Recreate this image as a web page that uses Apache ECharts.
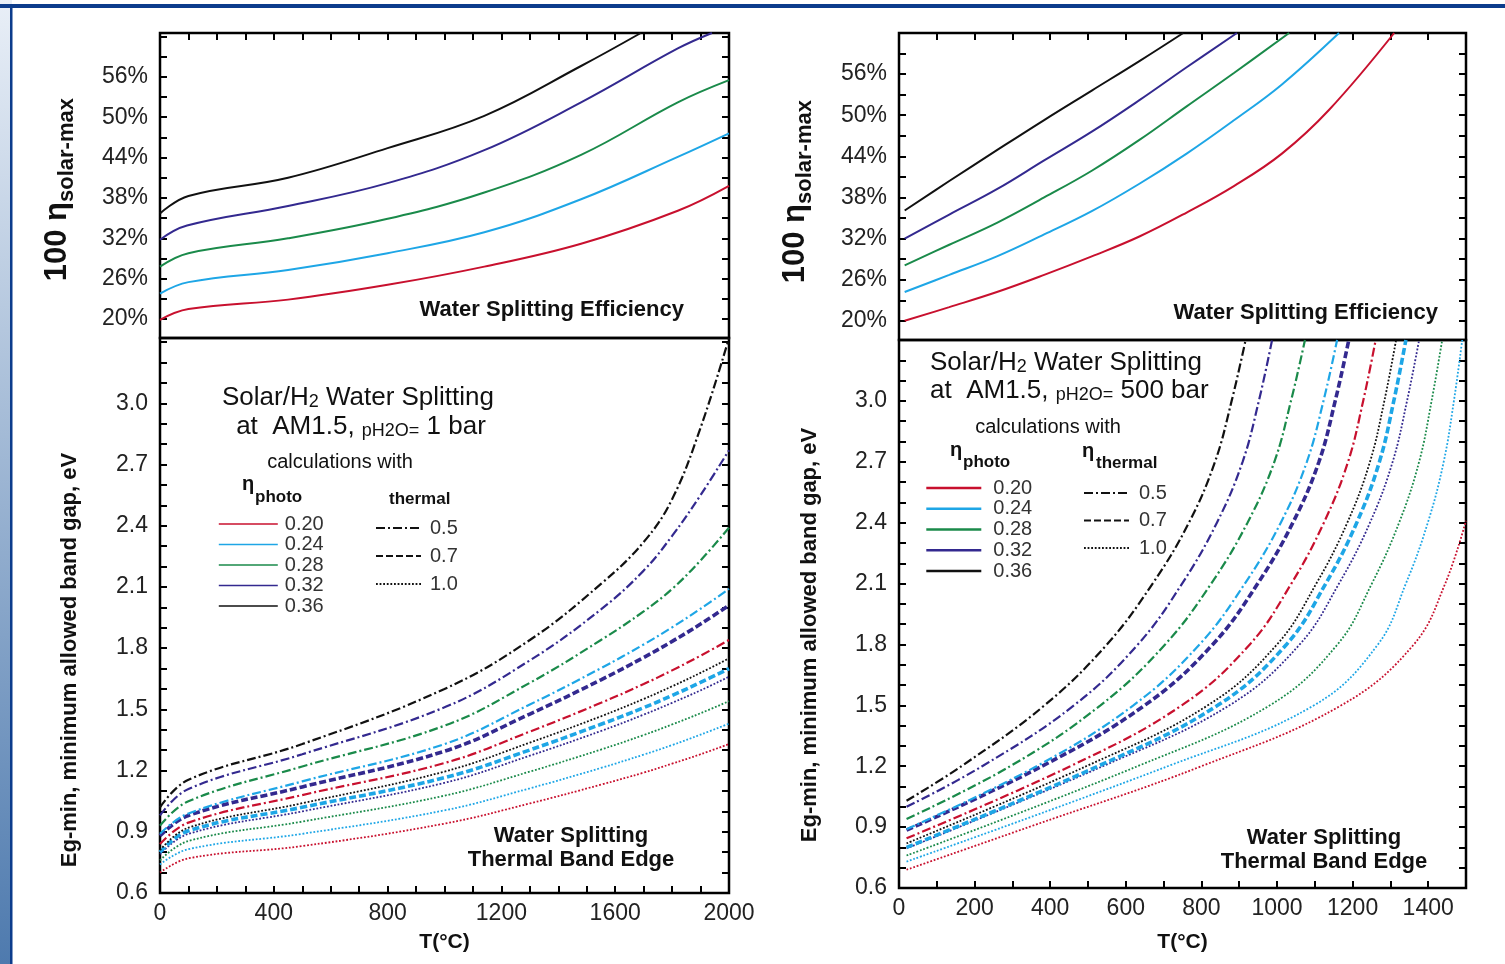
<!DOCTYPE html>
<html>
<head>
<meta charset="utf-8">
<script src="https://cdn.jsdelivr.net/npm/echarts@6/dist/echarts.min.js"></script>
<style>
  html, body { margin: 0; padding: 0; background: #fff; }
  #chart { width: 1505px; height: 964px; }
</style>
</head>
<body>
<div id="chart"></div>
<script>
// ---- tick values / labels ----
const pctLabels = [20, 26, 32, 38, 44, 50, 56];
const pctTicks = [20, 23, 26, 29, 32, 35, 38, 41, 44, 47, 50, 53, 56, 59, 62];
const egLabels = [0.6, 0.9, 1.2, 1.5, 1.8, 2.1, 2.4, 2.7, 3.0];
const egTicks = [0.6, 0.7, 0.8, 0.9, 1.0, 1.1, 1.2, 1.3, 1.4, 1.5, 1.6, 1.7, 1.8, 1.9, 2.0,
  2.1, 2.2, 2.3, 2.4, 2.5, 2.6, 2.7, 2.8, 2.9, 3.0, 3.1, 3.2, 3.3];
const tLabelsL = [0, 400, 800, 1200, 1600, 2000];
const tTicksL = [0, 100, 200, 300, 400, 500, 600, 700, 800, 900, 1000, 1100, 1200, 1300, 1400,
  1500, 1600, 1700, 1800, 1900, 2000];
const tLabelsR = [0, 200, 400, 600, 800, 1000, 1200, 1400];
const tTicksR = [0, 100, 200, 300, 400, 500, 600, 700, 800, 900, 1000, 1100, 1200, 1300, 1400, 1500];

const photoNames = ['0.20', '0.24', '0.28', '0.32', '0.36'];
const thermalNames = ['0.5', '0.7', '1.0'];

// ---- left top: 100*eta solar-max (%) vs T, pH2O = 1 bar ----
const effL020 = [[0, 19.9], [100, 21.5], [450, 22.9], [800, 25.1], [1140, 27.8], [1480, 31.2], [1820, 36.1], [2000, 39.8]];
const effL024 = [[0, 23.8], [100, 25.5], [450, 27.3], [800, 29.8], [1140, 32.9], [1480, 37.8], [1820, 44.1], [2000, 47.6]];
const effL028 = [[0, 27.8], [100, 29.8], [450, 32.0], [800, 34.9], [1140, 38.8], [1480, 44.4], [1820, 52.2], [2000, 55.5]];
const effL032 = [[0, 31.8], [95, 33.9], [450, 36.8], [800, 40.2], [1140, 45.1], [1480, 52.2], [1820, 60.2], [1940, 62.5]];
const effL036 = [[0, 35.7], [100, 38.3], [450, 41.0], [800, 45.4], [1140, 50.2], [1480, 57.6], [1690, 62.5]];

// ---- right top: same, pH2O = 500 bar ----
const effR020 = [[15, 20.0], [133, 22.0], [259, 24.2], [384, 26.7], [510, 29.4], [636, 32.3], [761, 35.8], [887, 39.7], [1013, 44.4], [1138, 50.8], [1310, 62.0]];
const effR024 = [[15, 24.2], [133, 26.7], [259, 29.4], [384, 32.6], [510, 36.0], [636, 40.0], [761, 44.4], [887, 49.3], [1013, 54.5], [1164, 62.0]];
const effR028 = [[15, 28.1], [133, 31.1], [259, 34.3], [384, 38.0], [510, 41.9], [636, 46.4], [761, 51.3], [887, 56.2], [1032, 62.0]];
const effR032 = [[15, 32.0], [133, 35.5], [259, 39.2], [384, 43.4], [510, 47.6], [636, 52.2], [761, 57.0], [894, 62.0]];
const effR036 = [[15, 36.1], [133, 40.4], [259, 44.9], [384, 49.3], [510, 53.6], [636, 57.9], [752, 62.0]];

// ---- left bottom: Eg-min (eV) vs T, pH2O = 1 bar (photo / thermal) ----
const tL = [0, 100, 500, 1000, 1300, 1550, 1700, 1800, 1900, 2000];
const egL036_05 = [1.02, 1.155, 1.33, 1.60, 1.84, 2.115, 2.32, 2.53, 2.88, 3.32];
const egL032_05 = [0.98, 1.11, 1.28, 1.51, 1.74, 1.99, 2.18, 2.35, 2.55, 2.77];
const egL028_05 = [0.93, 1.05, 1.22, 1.42, 1.63, 1.84, 1.98, 2.09, 2.23, 2.39];
const egL024_05 = [0.89, 0.99, 1.147, 1.33, 1.524, 1.702, 1.818, 1.902, 1.993, 2.09];
const egL032_07 = [0.88, 0.98, 1.12, 1.295, 1.477, 1.645, 1.754, 1.833, 1.918, 2.01];
const egL020_05 = [0.84, 0.945, 1.08, 1.237, 1.391, 1.532, 1.624, 1.691, 1.763, 1.84];
const egL036_10 = [0.81, 0.92, 1.04, 1.195, 1.337, 1.466, 1.551, 1.613, 1.679, 1.75];
const egL024_07 = [0.80, 0.905, 1.02, 1.165, 1.301, 1.427, 1.508, 1.568, 1.632, 1.70];
const egL032_10 = [0.79, 0.89, 1.00, 1.14, 1.273, 1.394, 1.474, 1.532, 1.593, 1.66];
const egL028_10 = [0.76, 0.855, 0.95, 1.077, 1.195, 1.303, 1.374, 1.426, 1.481, 1.54];
const egL024_10 = [0.74, 0.815, 0.89, 1.005, 1.113, 1.213, 1.278, 1.325, 1.376, 1.43];
const egL020_10 = [0.70, 0.77, 0.83, 0.94, 1.039, 1.131, 1.19, 1.234, 1.28, 1.33];

// ---- right bottom: Eg-min (eV) vs T, pH2O = 500 bar ----
const egR036_05 = [[20, 1.03], [165, 1.2], [385, 1.5], [550, 1.8], [671, 2.1], [767, 2.4], [836, 2.7], [880, 3.0], [917, 3.3]];
const egR032_05 = [[20, 1.0], [220, 1.2], [463, 1.5], [632, 1.8], [749, 2.1], [841, 2.4], [909, 2.7], [952, 3.0], [987, 3.3]];
const egR028_05 = [[20, 0.94], [294, 1.2], [533, 1.5], [704, 1.8], [826, 2.1], [922, 2.4], [993, 2.7], [1037, 3.0], [1074, 3.3]];
const egR024_05 = [[20, 0.89], [364, 1.2], [620, 1.5], [795, 1.8], [915, 2.1], [1010, 2.4], [1079, 2.7], [1123, 3.0], [1159, 3.3]];
const egR032_07 = [[20, 0.885], [378, 1.2], [650, 1.5], [830, 1.8], [949, 2.1], [1042, 2.4], [1111, 2.7], [1154, 3.0], [1190, 3.3]];
const egR020_05 = [[20, 0.845], [453, 1.2], [748, 1.5], [928, 1.8], [1038, 2.1], [1124, 2.4], [1188, 2.7], [1228, 3.0], [1261, 3.3]];
const egR036_10 = [[20, 0.82], [495, 1.2], [817, 1.5], [1000, 1.8], [1104, 2.1], [1186, 2.4], [1246, 2.7], [1284, 3.0], [1315, 3.3]];
const egR024_07 = [[20, 0.80], [526, 1.2], [843, 1.5], [1025, 1.8], [1129, 2.1], [1211, 2.4], [1271, 2.7], [1309, 3.0], [1341, 3.3]];
const egR032_10 = [[20, 0.795], [539, 1.2], [874, 1.5], [1060, 1.8], [1164, 2.1], [1246, 2.4], [1306, 2.7], [1344, 3.0], [1376, 3.3]];
const egR028_10 = [[20, 0.76], [631, 1.2], [981, 1.5], [1160, 1.8], [1251, 2.1], [1323, 2.4], [1376, 2.7], [1409, 3.0], [1437, 3.3]];
const egR024_10 = [[20, 0.73], [711, 1.2], [1098, 1.5], [1267, 1.8], [1341, 2.1], [1399, 2.4], [1441, 2.7], [1468, 3.0], [1490, 3.3]];
const egR020_10 = [[20, 0.69], [343, 0.9], [800, 1.2], [1170, 1.5], [1362, 1.8], [1445, 2.1], [1500, 2.41]];

// ---- styles ----
const FONT = '"Liberation Sans Narrow", "Liberation Sans", Arial, sans-serif';
const BOLD = '"Liberation Sans", Arial, sans-serif';
const colorOf = {'0.20': '#c8102e', '0.24': '#1ea6e6', '0.28': '#1a8a4a', '0.32': '#33298f', '0.36': '#111111'};
const lineOf = {
  '0.5': {type: [9, 3, 2, 3], width: 2.2},
  '0.7': {type: [7, 3], width: 3.6},
  '1.0': {type: [1.8, 1.8], width: 1.8}
};

const zip = (xs, ys) => xs.map((x, i) => [x, ys[i]]);

function curve(name, data, photo, thermal, xi, yi) {
  const ls = thermal ? lineOf[thermal] : {type: 'solid', width: 2};
  return {
    name: name, type: 'line', data: data, xAxisIndex: xi, yAxisIndex: yi,
    showSymbol: false, symbol: 'none', smooth: 0.4,
    silent: true, clip: true, z: 3,
    lineStyle: {color: colorOf[photo], type: ls.type, width: ls.width}
  };
}

const series = [
  curve('L 0.20', effL020, '0.20', null, 0, 0),
  curve('L 0.24', effL024, '0.24', null, 0, 0),
  curve('L 0.28', effL028, '0.28', null, 0, 0),
  curve('L 0.32', effL032, '0.32', null, 0, 0),
  curve('L 0.36', effL036, '0.36', null, 0, 0),

  curve('L 0.20/1.0', zip(tL, egL020_10), '0.20', '1.0', 1, 2),
  curve('L 0.24/1.0', zip(tL, egL024_10), '0.24', '1.0', 1, 2),
  curve('L 0.28/1.0', zip(tL, egL028_10), '0.28', '1.0', 1, 2),
  curve('L 0.32/1.0', zip(tL, egL032_10), '0.32', '1.0', 1, 2),
  curve('L 0.24/0.7', zip(tL, egL024_07), '0.24', '0.7', 1, 2),
  curve('L 0.36/1.0', zip(tL, egL036_10), '0.36', '1.0', 1, 2),
  curve('L 0.20/0.5', zip(tL, egL020_05), '0.20', '0.5', 1, 2),
  curve('L 0.32/0.7', zip(tL, egL032_07), '0.32', '0.7', 1, 2),
  curve('L 0.24/0.5', zip(tL, egL024_05), '0.24', '0.5', 1, 2),
  curve('L 0.28/0.5', zip(tL, egL028_05), '0.28', '0.5', 1, 2),
  curve('L 0.32/0.5', zip(tL, egL032_05), '0.32', '0.5', 1, 2),
  curve('L 0.36/0.5', zip(tL, egL036_05), '0.36', '0.5', 1, 2),

  curve('R 0.20', effR020, '0.20', null, 2, 4),
  curve('R 0.24', effR024, '0.24', null, 2, 4),
  curve('R 0.28', effR028, '0.28', null, 2, 4),
  curve('R 0.32', effR032, '0.32', null, 2, 4),
  curve('R 0.36', effR036, '0.36', null, 2, 4),

  curve('R 0.20/1.0', egR020_10, '0.20', '1.0', 3, 6),
  curve('R 0.24/1.0', egR024_10, '0.24', '1.0', 3, 6),
  curve('R 0.28/1.0', egR028_10, '0.28', '1.0', 3, 6),
  curve('R 0.32/1.0', egR032_10, '0.32', '1.0', 3, 6),
  curve('R 0.24/0.7', egR024_07, '0.24', '0.7', 3, 6),
  curve('R 0.36/1.0', egR036_10, '0.36', '1.0', 3, 6),
  curve('R 0.20/0.5', egR020_05, '0.20', '0.5', 3, 6),
  curve('R 0.32/0.7', egR032_07, '0.32', '0.7', 3, 6),
  curve('R 0.24/0.5', egR024_05, '0.24', '0.5', 3, 6),
  curve('R 0.28/0.5', egR028_05, '0.28', '0.5', 3, 6),
  curve('R 0.32/0.5', egR032_05, '0.32', '0.5', 3, 6),
  curve('R 0.36/0.5', egR036_05, '0.36', '0.5', 3, 6)
];

// empty series only for the legend keys
photoNames.forEach(n => series.push({
  name: n, type: 'line', data: [], xAxisIndex: 1, yAxisIndex: 2, symbol: 'none',
  lineStyle: {color: colorOf[n], width: 2}, itemStyle: {color: colorOf[n]}
}));
thermalNames.forEach(n => series.push({
  name: n, type: 'line', data: [], xAxisIndex: 1, yAxisIndex: 2, symbol: 'none',
  lineStyle: {color: '#111', type: lineOf[n].type, width: lineOf[n].width}, itemStyle: {color: '#111'}
}));

const tickStyle = {show: true, inside: true, length: 7, lineStyle: {color: '#000', width: 2}};

function xAx(grid, max, labels, ticks, pos, showLabels, name, gap) {
  return {
    type: 'value', gridIndex: grid, min: 0, max: max, position: pos,
    axisLine: {show: false}, splitLine: {show: false},
    axisTick: Object.assign({customValues: ticks}, tickStyle),
    axisLabel: {show: showLabels, customValues: labels, margin: 9, color: '#222',
      fontSize: 23, fontFamily: FONT, formatter: v => String(v)},
    name: name || '', nameLocation: 'middle', nameGap: gap || 40,
    nameTextStyle: {fontSize: 21, fontWeight: 'bold', fontFamily: BOLD, color: '#111'}
  };
}

function yAx(grid, min, max, labels, ticks, pos, fmt) {
  return {
    type: 'value', gridIndex: grid, min: min, max: max, position: pos,
    axisLine: {show: false}, splitLine: {show: false},
    axisTick: Object.assign({customValues: ticks}, tickStyle),
    axisLabel: {show: pos === 'left', customValues: labels, margin: 12, color: '#222',
      fontSize: 23, fontFamily: FONT, formatter: fmt}
  };
}

const pctFmt = v => Math.round(v) + '%';
const egFmt = v => v.toFixed(1);

const gridStyle = {show: true, borderColor: '#000', borderWidth: 2.5, backgroundColor: 'transparent'};

function txt(x, y, text, size, weight, align, extra) {
  return Object.assign({
    type: 'text', x: x, y: y, silent: true,
    style: {text: text, fill: '#111', font: (weight || 'normal') + ' ' + size + 'px ' + (weight === 'bold' ? BOLD : FONT),
      align: align || 'left', verticalAlign: 'middle'}
  }, extra || {});
}

function richTxt(x, y, text, rich, align) {
  return {
    type: 'text', x: x, y: y, silent: true,
    style: {text: text, rich: rich, fill: '#111', align: align || 'left', verticalAlign: 'middle'}
  };
}

const titleRich = {
  a: {fontSize: 26, fontFamily: FONT, fill: '#111', verticalAlign: 'bottom'},
  s: {fontSize: 18, fontFamily: FONT, fill: '#111', verticalAlign: 'bottom'}
};

function yName(x, y) {
  return {
    type: 'group', x: x, y: y, rotation: Math.PI / 2, silent: true,
    children: [
      {type: 'text', x: -2, y: 0, style: {text: '100 η', fill: '#111', font: 'bold 31px ' + BOLD, align: 'right', verticalAlign: 'middle'}},
      {type: 'text', x: -2, y: 10, style: {text: 'solar-max', fill: '#111', font: 'bold 22px ' + BOLD, align: 'left', verticalAlign: 'middle'}}
    ]
  };
}

const legendText = {fontSize: 20, fontFamily: FONT, color: '#333'};
const noSymbol = {opacity: 0};

const chart = echarts.init(document.getElementById('chart'), null, {renderer: 'canvas'});

chart.setOption({
  animation: false,
  backgroundColor: '#fff',
  grid: [
    Object.assign({left: 160, top: 33, width: 569, height: 305}, gridStyle),
    Object.assign({left: 160, top: 338, width: 569, height: 555}, gridStyle),
    Object.assign({left: 899, top: 33, width: 567, height: 307}, gridStyle),
    Object.assign({left: 899, top: 340, width: 567, height: 548}, gridStyle)
  ],
  xAxis: [
    xAx(0, 2000, tLabelsL, tTicksL, 'top', false),
    xAx(1, 2000, tLabelsL, tTicksL, 'bottom', true, 'T(°C)', 39),
    xAx(2, 1500, tLabelsR, tTicksR, 'top', false),
    xAx(3, 1500, tLabelsR, tTicksR, 'bottom', true, 'T(°C)', 44)
  ],
  yAxis: [
    yAx(0, 17.2, 62.5, pctLabels, pctTicks, 'left', pctFmt),
    yAx(0, 17.2, 62.5, pctLabels, pctTicks, 'right', pctFmt),
    yAx(1, 0.6, 3.32, egLabels, egTicks, 'left', egFmt),
    yAx(1, 0.6, 3.32, egLabels, egTicks, 'right', egFmt),
    yAx(2, 17.2, 62, pctLabels, pctTicks, 'left', pctFmt),
    yAx(2, 17.2, 62, pctLabels, pctTicks, 'right', pctFmt),
    yAx(3, 0.6, 3.3, egLabels, egTicks, 'left', egFmt),
    yAx(3, 0.6, 3.3, egLabels, egTicks, 'right', egFmt)
  ],
  legend: [
    {data: photoNames, orient: 'vertical', left: 213, top: 509, itemWidth: 59, itemHeight: 10,
      itemGap: 0.5, selectedMode: false, lineStyle: {width: 1.6}, itemStyle: noSymbol,
      textStyle: Object.assign({padding: [0, 0, 0, 2]}, legendText)},
    {data: thermalNames, orient: 'vertical', left: 370, top: 513, itemWidth: 45, itemHeight: 10,
      itemGap: 8, selectedMode: false, itemStyle: noSymbol,
      textStyle: Object.assign({padding: [0, 0, 0, 4]}, legendText)},
    {data: photoNames, orient: 'vertical', left: 920, top: 473, itemWidth: 55, itemHeight: 10,
      itemGap: 0.75, selectedMode: false, lineStyle: {width: 2.6}, itemStyle: noSymbol,
      textStyle: Object.assign({padding: [0, 0, 0, 7]}, legendText)},
    {data: thermalNames, orient: 'vertical', left: 1078, top: 478, itemWidth: 45, itemHeight: 10,
      itemGap: 7.5, selectedMode: false, itemStyle: noSymbol,
      textStyle: Object.assign({padding: [0, 0, 0, 5]}, legendText)}
  ],
  graphic: [
    // slide frame
    {type: 'rect', silent: true, shape: {x: 0, y: 0, width: 12, height: 964},
      style: {fill: new echarts.graphic.LinearGradient(0, 0, 0, 1, [
        {offset: 0, color: '#e9eff7'}, {offset: 1, color: '#4e7aae'}])}},
    {type: 'rect', silent: true, shape: {x: 0, y: 4, width: 1505, height: 4}, style: {fill: '#0c3c8c'}},
    {type: 'rect', silent: true, shape: {x: 10, y: 4, width: 2.5, height: 960}, style: {fill: '#0c3c8c'}},

    yName(57, 200),
    yName(795, 202),
    txt(70, 660, 'Eg-min, minimum allowed band gap, eV', 22, 'bold', 'center', {rotation: Math.PI / 2}),
    txt(810, 635, 'Eg-min, minimum allowed band gap, eV', 22, 'bold', 'center', {rotation: Math.PI / 2}),

    txt(684, 310, 'Water Splitting Efficiency', 22, 'bold', 'right'),
    txt(1438, 313, 'Water Splitting Efficiency', 22, 'bold', 'right'),
    txt(571, 836, 'Water Splitting', 22, 'bold', 'center'),
    txt(571, 860, 'Thermal Band Edge', 22, 'bold', 'center'),
    txt(1324, 838, 'Water Splitting', 22, 'bold', 'center'),
    txt(1324, 862, 'Thermal Band Edge', 22, 'bold', 'center'),

    // left panel annotation
    richTxt(358, 398, '{a|Solar/H}{s|2}{a| Water Splitting}', titleRich, 'center'),
    richTxt(361, 427, '{a|at  AM1.5, }{s|pH2O=}{a| 1 bar}', titleRich, 'center'),
    txt(340, 462, 'calculations with', 20, 'normal', 'center'),
    txt(242, 484, 'η', 20, 'bold', 'left'),
    txt(255, 497, 'photo', 17, 'bold', 'left'),
    txt(389, 499, 'thermal', 17, 'bold', 'left'),

    // right panel annotation
    richTxt(930, 363, '{a|Solar/H}{s|2}{a| Water Splitting}', titleRich, 'left'),
    richTxt(930, 391, '{a|at  AM1.5, }{s|pH2O=}{a| 500 bar}', titleRich, 'left'),
    txt(1048, 427, 'calculations with', 20, 'normal', 'center'),
    txt(950, 450, 'η', 20, 'bold', 'left'),
    txt(963, 462, 'photo', 17, 'bold', 'left'),
    txt(1082, 451, 'η', 20, 'bold', 'left'),
    txt(1096, 463, 'thermal', 17, 'bold', 'left')
  ],
  series: series
});
</script>
</body>
</html>
